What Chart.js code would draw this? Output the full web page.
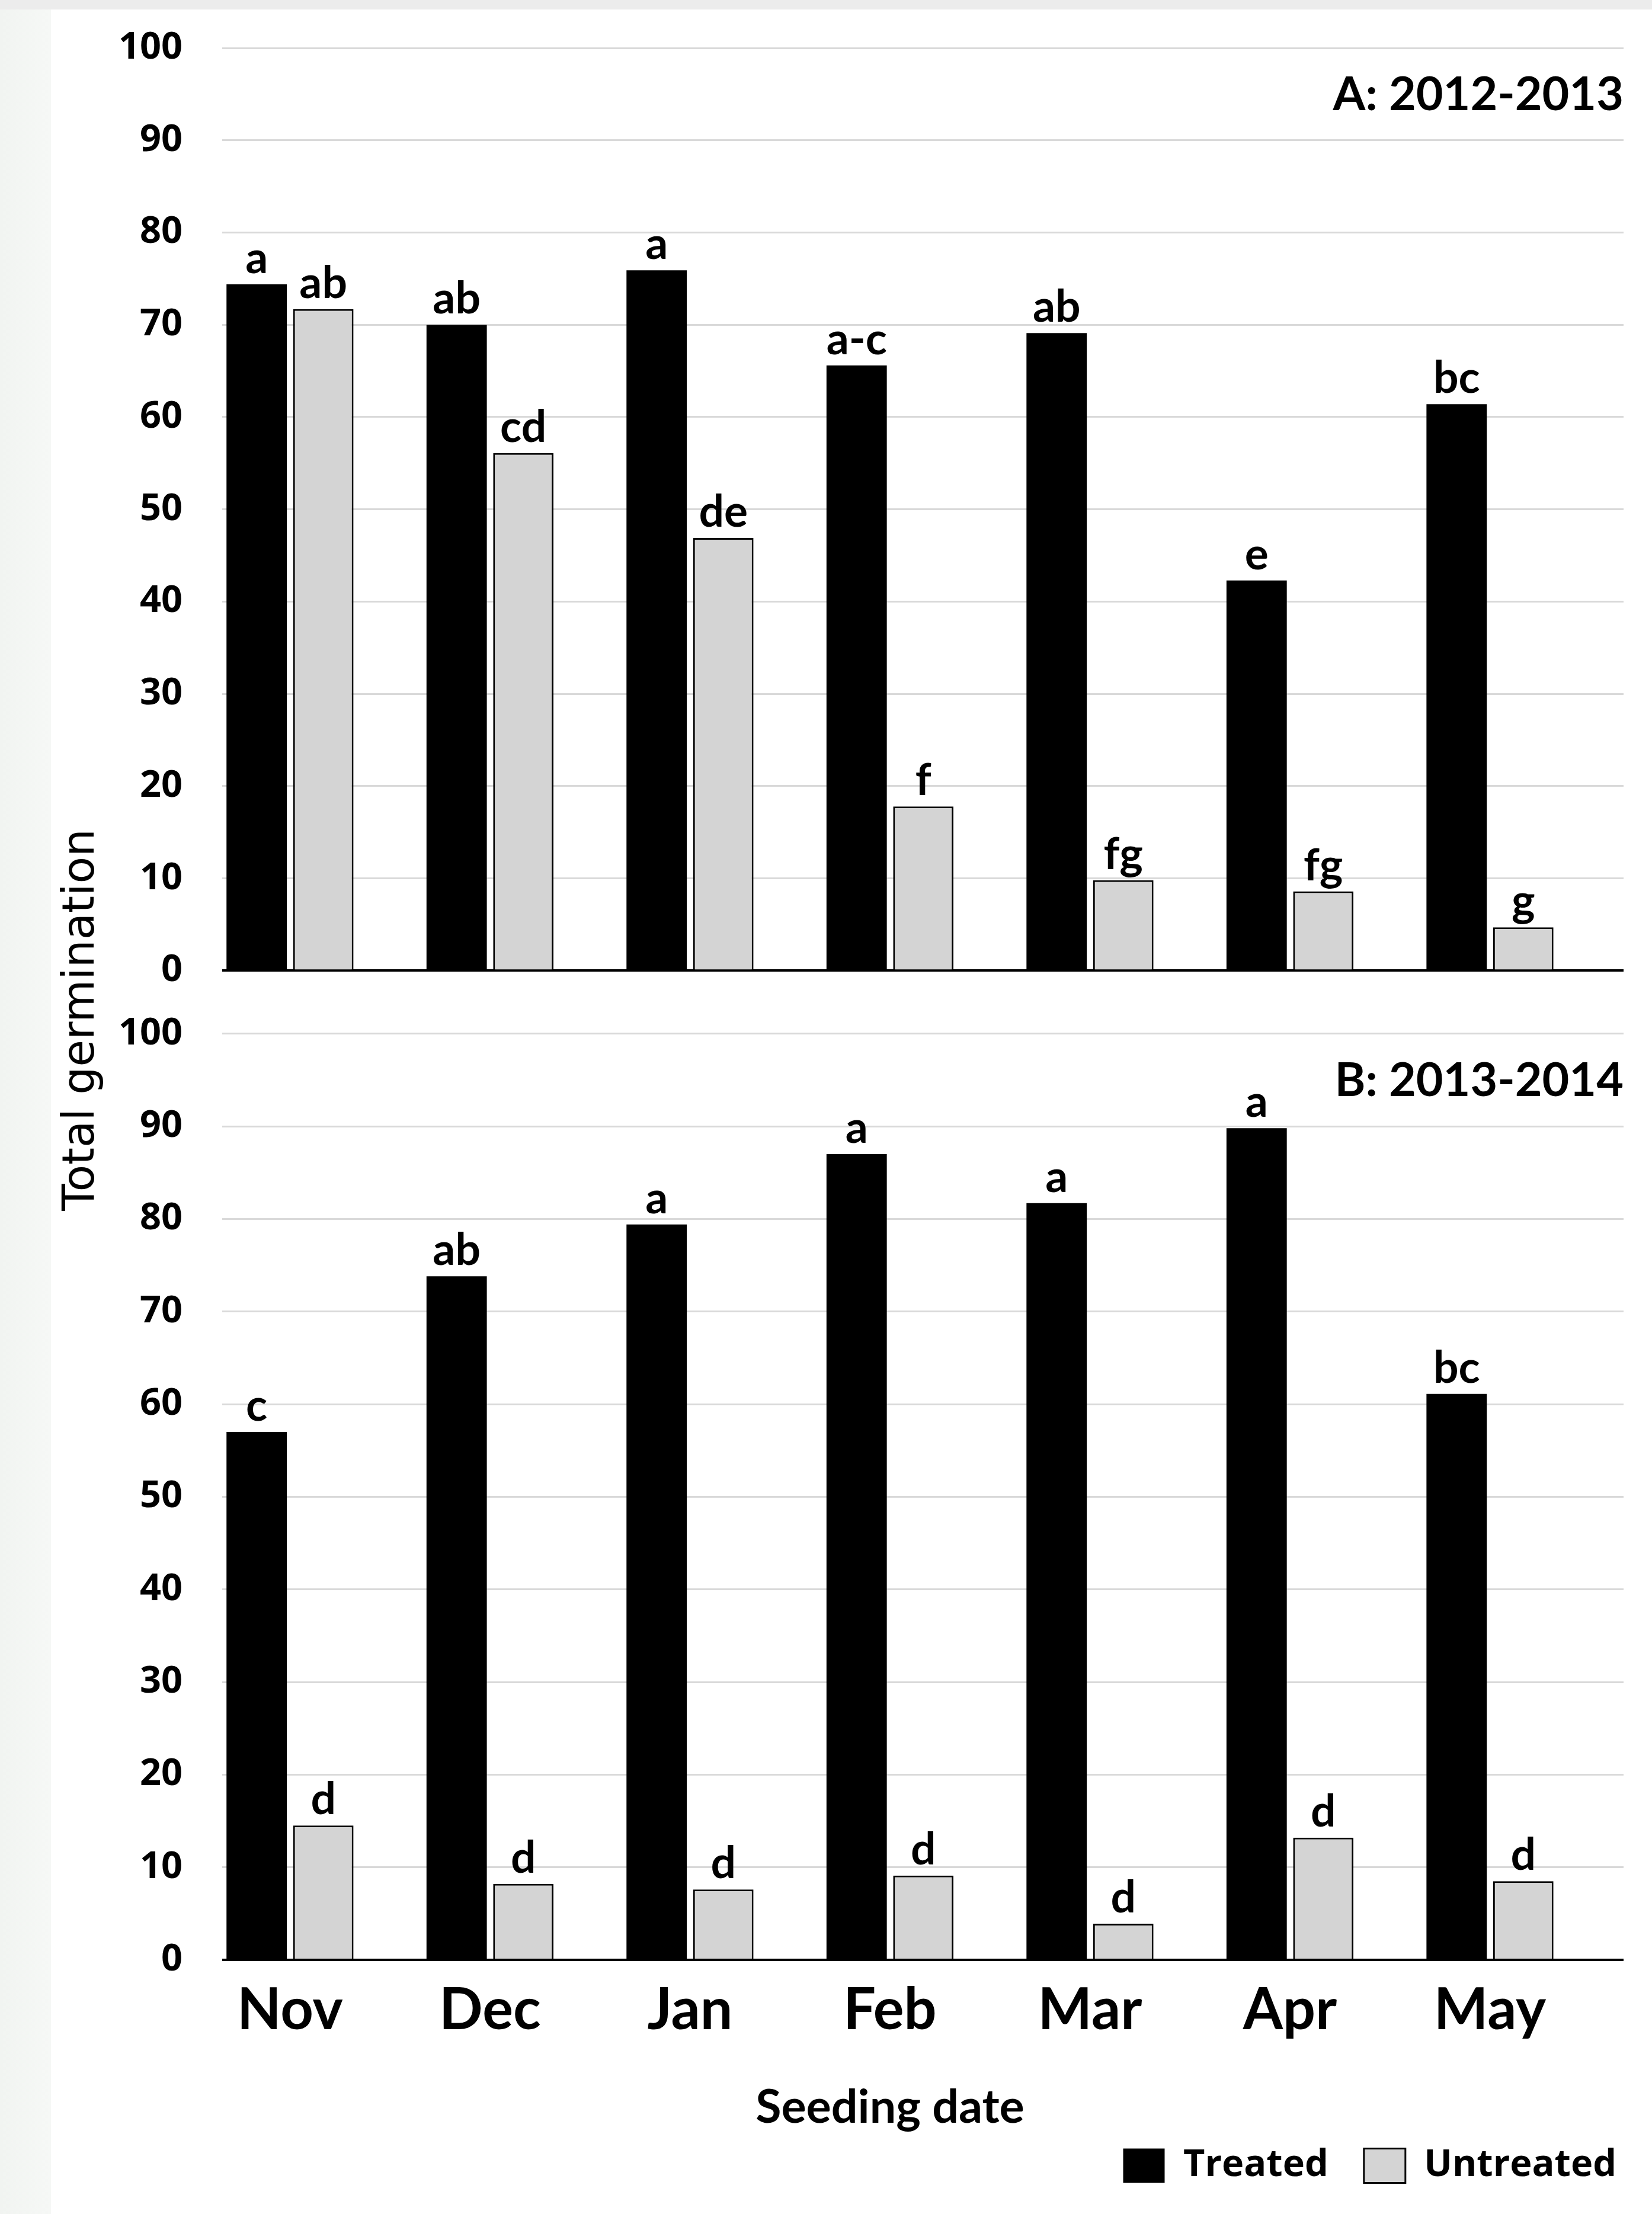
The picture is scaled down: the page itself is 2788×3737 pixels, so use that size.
<!DOCTYPE html>
<html>
<head>
<meta charset="utf-8">
<title>Total germination by seeding date</title>
<script src="https://cdn.jsdelivr.net/npm/chart.js@4.4.1/dist/chart.umd.min.js"></script>
<style>
  html, body { margin: 0; padding: 0; }
  body {
    width: 2788px;
    height: 3737px;
    overflow: hidden;
    background:
      linear-gradient(#ececec, #ececec) 0 0 / 100% 16px no-repeat,
      linear-gradient(to right, #f1f4f1, #f6f8f6) 0 0 / 86px 100% no-repeat,
      #ffffff;
  }
  #wrap { position: relative; width: 2788px; height: 3737px; }
</style>
</head>
<body>
<div id="wrap"><canvas id="germChart"></canvas></div>
<script>
const months = ["Nov", "Dec", "Jan", "Feb", "Mar", "Apr", "May"];
const yTicks = [0, 10, 20, 30, 40, 50, 60, 70, 80, 90, 100];
const panelTitles = ["A: 2012-2013", "B: 2013-2014"];

// A: 2012-2013
const treatedA = [74.4, 70.0, 75.9, 65.6, 69.1, 42.3, 61.4];
const untreatedA = [71.7, 56.1, 46.9, 17.8, 9.8, 8.6, 4.7];
const lettersTreatedA = ["a", "ab", "a", "a-c", "ab", "e", "bc"];
const lettersUntreatedA = ["ab", "cd", "de", "f", "fg", "fg", "g"];

// B: 2013-2014
const treatedB = [57.0, 73.8, 79.4, 87.0, 81.7, 89.8, 61.1];
const untreatedB = [14.5, 8.2, 7.6, 9.1, 3.9, 13.2, 8.5];
const lettersTreatedB = ["c", "ab", "a", "a", "a", "a", "bc"];
const lettersUntreatedB = ["d", "d", "d", "d", "d", "d", "d"];

const ctxGerm = document.getElementById("germChart").getContext("2d");

Chart.defaults.font.family = "Lato";
Chart.defaults.color = "#000";

const toPoints = vals => vals.map((v, i) => ({ x: i, y: v }));

// letters over bars, panel titles, x title and the shared y title
const annotate = {
  id: "annotate",
  afterDatasetsDraw(chart) {
    const ctx = chart.ctx;
    const area = chart.chartArea;
    ctx.save();
    ctx.fillStyle = "#000";

    ctx.textAlign = "center";
    ctx.textBaseline = "alphabetic";
    ctx.font = "bold 75px Lato";
    chart.data.datasets.forEach((ds, i) => {
      chart.getDatasetMeta(i).data.forEach((bar, j) => {
        ctx.fillText(ds.letters[j], bar.x, bar.y - 19);
      });
    });

    // x title sits under the middle month
    ctx.font = "bold 79px Lato";
    ctx.fillText("Seeding date", chart.scales.x.getPixelForValue(3), area.bottom + 275);

    ctx.textAlign = "right";
    ["yA", "yB"].forEach((id, k) => {
      const y = chart.scales[id].getPixelForValue(100) + 105;
      ctx.fillText(panelTitles[k], area.right, y);
    });

    ctx.translate(158, (area.top + area.bottom) / 2 + 27);
    ctx.rotate(-Math.PI / 2);
    ctx.textAlign = "center";
    ctx.font = "74px 'DejaVu Sans'";
    ctx.fillText("Total germination", 0, 0);
    ctx.restore();
  }
};

const gridColor = c => (c.tick.value === 0 ? "#000" : "#d9d9d9");
const gridWidth = c => (c.tick.value === 0 ? 4 : 3);

// tick marks are used as the gap between labels and plot (padding would also pad the top)
const yAxis = (weight, stackWeight, max) => ({
  type: "linear",
  position: "left",
  stack: "panels",
  stackWeight: stackWeight,
  weight: weight,
  min: 0,
  max: max,
  grid: {
    color: gridColor,
    lineWidth: gridWidth,
    drawTicks: true,
    tickLength: 67,
    tickColor: "rgba(0,0,0,0)"
  },
  border: { display: false },
  ticks: {
    stepSize: 10,
    includeBounds: false,
    padding: 0,
    color: "#000",
    font: { family: "'Open Sans'", size: 63, weight: "bold" },
    callback: v => (yTicks.includes(v) ? String(v) : "")
  },
  afterFit: s => { s.width = 375; }
});

new Chart(ctxGerm, {
  type: "bar",
  data: {
    datasets: [
      {
        label: "Treated",
        data: toPoints(treatedA),
        letters: lettersTreatedA,
        yAxisID: "yA",
        stack: "treated",
        backgroundColor: "#000",
        borderWidth: 0
      },
      {
        label: "Untreated",
        data: toPoints(untreatedA),
        letters: lettersUntreatedA,
        yAxisID: "yA",
        stack: "untreated",
        backgroundColor: "#d4d4d4",
        borderColor: "#000",
        borderWidth: 3
      },
      {
        label: "Treated",
        data: toPoints(treatedB),
        letters: lettersTreatedB,
        yAxisID: "yB",
        stack: "treated",
        backgroundColor: "#000",
        borderWidth: 0
      },
      {
        label: "Untreated",
        data: toPoints(untreatedB),
        letters: lettersUntreatedB,
        yAxisID: "yB",
        stack: "untreated",
        backgroundColor: "#d4d4d4",
        borderColor: "#000",
        borderWidth: 3
      }
    ]
  },
  options: {
    responsive: true,
    maintainAspectRatio: false,
    animation: false,
    categoryPercentage: 0.6667,
    barPercentage: 0.905,
    layout: { padding: { top: 81, left: 0, right: 0, bottom: 40 } },
    plugins: {
      tooltip: { enabled: false },
      legend: {
        position: "bottom",
        align: "end",
        labels: {
          boxWidth: 70,
          boxHeight: 58,
          padding: 60,
          color: "#000",
          font: { family: "'Open Sans'", size: 63, weight: "bold" },
          filter: item => item.datasetIndex < 2
        }
      }
    },
    scales: {
      x: {
        type: "linear",
        offset: false,
        min: -0.339,
        max: 6.668,
        grid: { display: false },
        border: { display: false },
        ticks: {
          stepSize: 1,
          includeBounds: false,
          autoSkip: false,
          maxRotation: 0,
          padding: 20,
          color: "#000",
          font: { size: 97, weight: "bold" },
          callback: v => months[v] ?? ""
        },
        afterFit: s => { s.height = 256; }
      },
      yA: yAxis(2, 1557, 100),
      yB: yAxis(1, 1669, 106.8),
      yRight: {
        type: "linear",
        position: "right",
        grid: { display: false },
        border: { display: false },
        ticks: { display: false },
        afterFit: s => { s.width = 48; }
      }
    }
  },
  plugins: [annotate]
});
</script>
</body>
</html>
